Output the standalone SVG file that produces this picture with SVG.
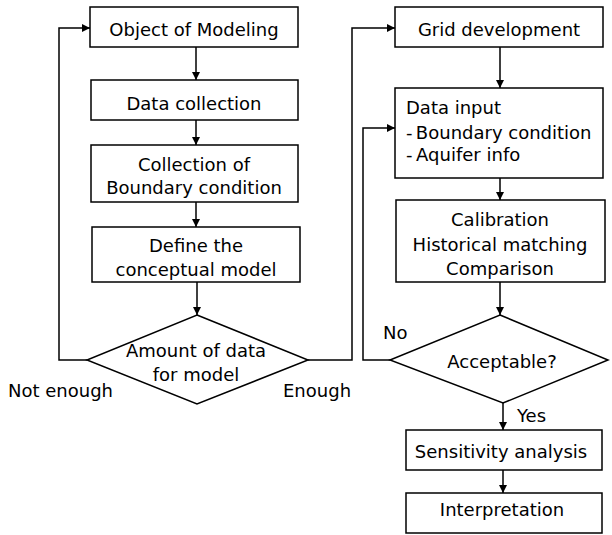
<svg xmlns="http://www.w3.org/2000/svg" width="612" height="535" viewBox="0 0 612 535">
<defs>
<marker id="ah" viewBox="0 0 10 10" refX="10" refY="5" markerWidth="8" markerHeight="8" markerUnits="userSpaceOnUse" orient="auto"><path d="M0,0 L10,5 L0,10 z" fill="#000"/></marker>
<style>
.b{fill:#fff;stroke:#000;stroke-width:1.5}
.t{font-family:"DejaVu Sans",sans-serif;font-size:18px;fill:#000;text-anchor:middle}
.l{text-anchor:start}
.c{fill:none;stroke:#000;stroke-width:1.5;marker-end:url(#ah)}
</style>
</defs>
<rect width="612" height="535" fill="#fff"/>
<g id="connectors">
<path class="c" d="M196,47 V80"/>
<path class="c" d="M196,120 V145"/>
<path class="c" d="M196,202 V227"/>
<path class="c" d="M197,282 V315"/>
<path class="c" d="M87,360 H59 V28 H90"/>
<path class="c" d="M308,360 H352 V28 H395"/>
<path class="c" d="M500,47 V88"/>
<path class="c" d="M500,178 V200"/>
<path class="c" d="M500,282 V315"/>
<path class="c" d="M390,360 H363 V128 H395"/>
<path class="c" d="M503,403 V430"/>
<path class="c" d="M503,470 V493"/>
</g>
<g id="object">
<rect class="b" x="90" y="7" width="208" height="40"/>
<text class="t" x="194" y="36">Object of Modeling</text>
</g>
<g id="datacollection">
<rect class="b" x="91" y="80" width="207" height="40"/>
<text class="t" x="194" y="110">Data collection</text>
</g>
<g id="boundary">
<rect class="b" x="91" y="145" width="207" height="57"/>
<text class="t" x="194" y="171">Collection of</text>
<text class="t" x="194" y="194">Boundary condition</text>
</g>
<g id="conceptual">
<rect class="b" x="92" y="227" width="208" height="55"/>
<text class="t" x="196" y="252">Define the</text>
<text class="t" x="196" y="276">conceptual model</text>
</g>
<g id="amount">
<polygon class="b" points="197,315 308,360 197,404 87,360"/>
<text class="t" x="196" y="357">Amount of data</text>
<text class="t" x="196" y="381">for model</text>
</g>
<text class="t l" x="8" y="397">Not enough</text>
<text class="t l" x="283" y="397">Enough</text>
<g id="grid">
<rect class="b" x="395" y="7" width="208" height="40"/>
<text class="t" x="499" y="36">Grid development</text>
</g>
<g id="datainput">
<rect class="b" x="395" y="88" width="208" height="90"/>
<text class="t l" x="406" y="114">Data input</text>
<text class="t l" x="406" y="139">-<tspan dx="4">Boundary condition</tspan></text>
<text class="t l" x="406" y="161">-<tspan dx="4">Aquifer info</tspan></text>
</g>
<g id="calibration">
<rect class="b" x="396" y="200" width="209" height="82"/>
<text class="t" x="500" y="226">Calibration</text>
<text class="t" x="500" y="251">Historical matching</text>
<text class="t" x="500" y="275">Comparison</text>
</g>
<g id="acceptable">
<polygon class="b" points="500,315 608,360 503,403 390,360"/>
<text class="t" x="502" y="368">Acceptable?</text>
</g>
<text class="t l" x="383" y="339">No</text>
<text class="t l" x="517" y="422">Yes</text>
<g id="sensitivity">
<rect class="b" x="406" y="430" width="196" height="40"/>
<text class="t" x="501" y="458">Sensitivity analysis</text>
</g>
<g id="interpretation">
<rect class="b" x="406" y="493" width="196" height="40"/>
<text class="t" x="502" y="516">Interpretation</text>
</g>
</svg>
